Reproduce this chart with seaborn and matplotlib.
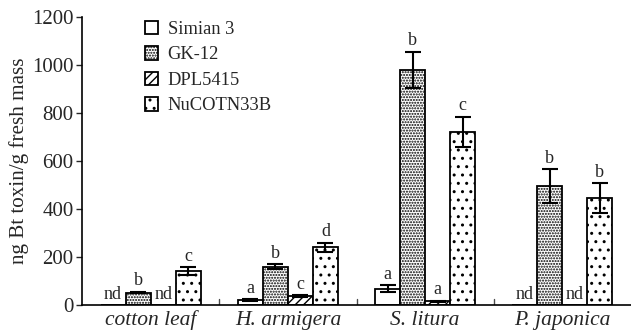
import matplotlib
matplotlib.use("Agg")
import matplotlib.pyplot as plt
import seaborn as sns
import pandas as pd
import numpy as np

groups = ["cotton leaf", "H. armigera", "S. litura", "P. japonica"]
cultivars = ["Simian 3", "GK-12", "DPL5415", "NuCOTN33B"]
simian3 = [0, 20, 68, 0]
gk12 = [52, 160, 980, 495]
dpl5415 = [0, 38, 15, 0]
nucotn33b = [142, 240, 722, 445]
err_simian3 = [0, 3, 15, 0]
err_gk12 = [3, 10, 75, 70]
err_dpl5415 = [0, 4, 3, 0]
err_nucotn33b = [15, 20, 62, 62]
lab_simian3 = ["nd", "a", "a", "nd"]
lab_gk12 = ["b", "b", "b", "b"]
lab_dpl5415 = ["nd", "c", "a", "nd"]
lab_nucotn33b = ["c", "d", "c", "b"]
yticks = [0, 200, 400, 600, 800, 1000, 1200]

vals = [simian3, gk12, dpl5415, nucotn33b]
errs = [err_simian3, err_gk12, err_dpl5415, err_nucotn33b]
labs = [lab_simian3, lab_gk12, lab_dpl5415, lab_nucotn33b]

rows = []
for c, v in zip(cultivars, vals):
    for g, x in zip(groups, v):
        rows.append({"group": g, "cultivar": c, "value": x})
df = pd.DataFrame(rows)

sns.set_style("white")
plt.rcParams['font.family'] = ['Liberation Serif', 'DejaVu Serif']
plt.rcParams['hatch.linewidth'] = 1.0

fig = plt.figure(figsize=(6.31, 3.33), dpi=100)
ax = fig.add_axes([82/631, 28/333, 1 - 82/631, (333-28-17)/333 + 0.0])

sns.barplot(data=df, x="group", y="value", hue="cultivar", order=groups,
            hue_order=cultivars, palette=["white"]*4, edgecolor="black",
            linewidth=1.3, width=0.73, gap=0.0, errorbar=None, ax=ax,
            legend=True)

hatches = ["", "......", "////", ".."]
bar_containers = list(ax.containers)
for i, cont in enumerate(bar_containers):
    for j, p in enumerate(cont.patches):
        p.set_hatch(hatches[i])
        p.set_edgecolor("black")
        x = p.get_x() + p.get_width() / 2
        h = p.get_height()
        e = errs[i][j]
        if e > 0:
            ax.errorbar(x, h, yerr=e, fmt="none", ecolor="black",
                        elinewidth=1.5, capsize=6, capthick=1.5)
        ax.text(x, h + e + 10, labs[i][j], ha="center", va="bottom",
                fontsize=13)

ax.set_ylim(0, 1200)
ax.set_xlim(-0.5, 3.5)
ax.set_yticks(yticks)
ax.set_yticklabels([str(t) for t in yticks], fontsize=15)
ax.set_xticks([0, 1, 2, 3])
ax.set_xticklabels(groups, fontsize=15.5, style="italic")
ax.tick_params(axis="x", length=0, pad=4)
ax.tick_params(axis="y", direction="out", length=4, width=1, left=True, pad=2)
for xb in [0.5, 1.5, 2.5]:
    ax.plot([xb, xb], [0, 25], color="0.3", lw=1)
ax.set_xlabel("")
ax.set_ylabel("ng Bt toxin/g fresh mass", fontsize=15.2, labelpad=2)
sns.despine(ax=ax)
for s in ["left", "bottom"]:
    ax.spines[s].set_color("black")
    ax.spines[s].set_linewidth(1.2)

handles, labels = ax.get_legend_handles_labels()
leg = ax.legend(handles, labels, loc="upper left",
                bbox_to_anchor=(128/631, 1 - 4/333),
                bbox_transform=fig.transFigure, frameon=False,
                handlelength=0.75, handleheight=0.75, handletextpad=0.5,
                labelspacing=0.45, fontsize=13.3)
for hnd, ht in zip(leg.legend_handles, hatches):
    hnd.set_hatch(ht)
    hnd.set_edgecolor("black")
    hnd.set_facecolor("white")

fig.savefig("out.png", dpi=100)
